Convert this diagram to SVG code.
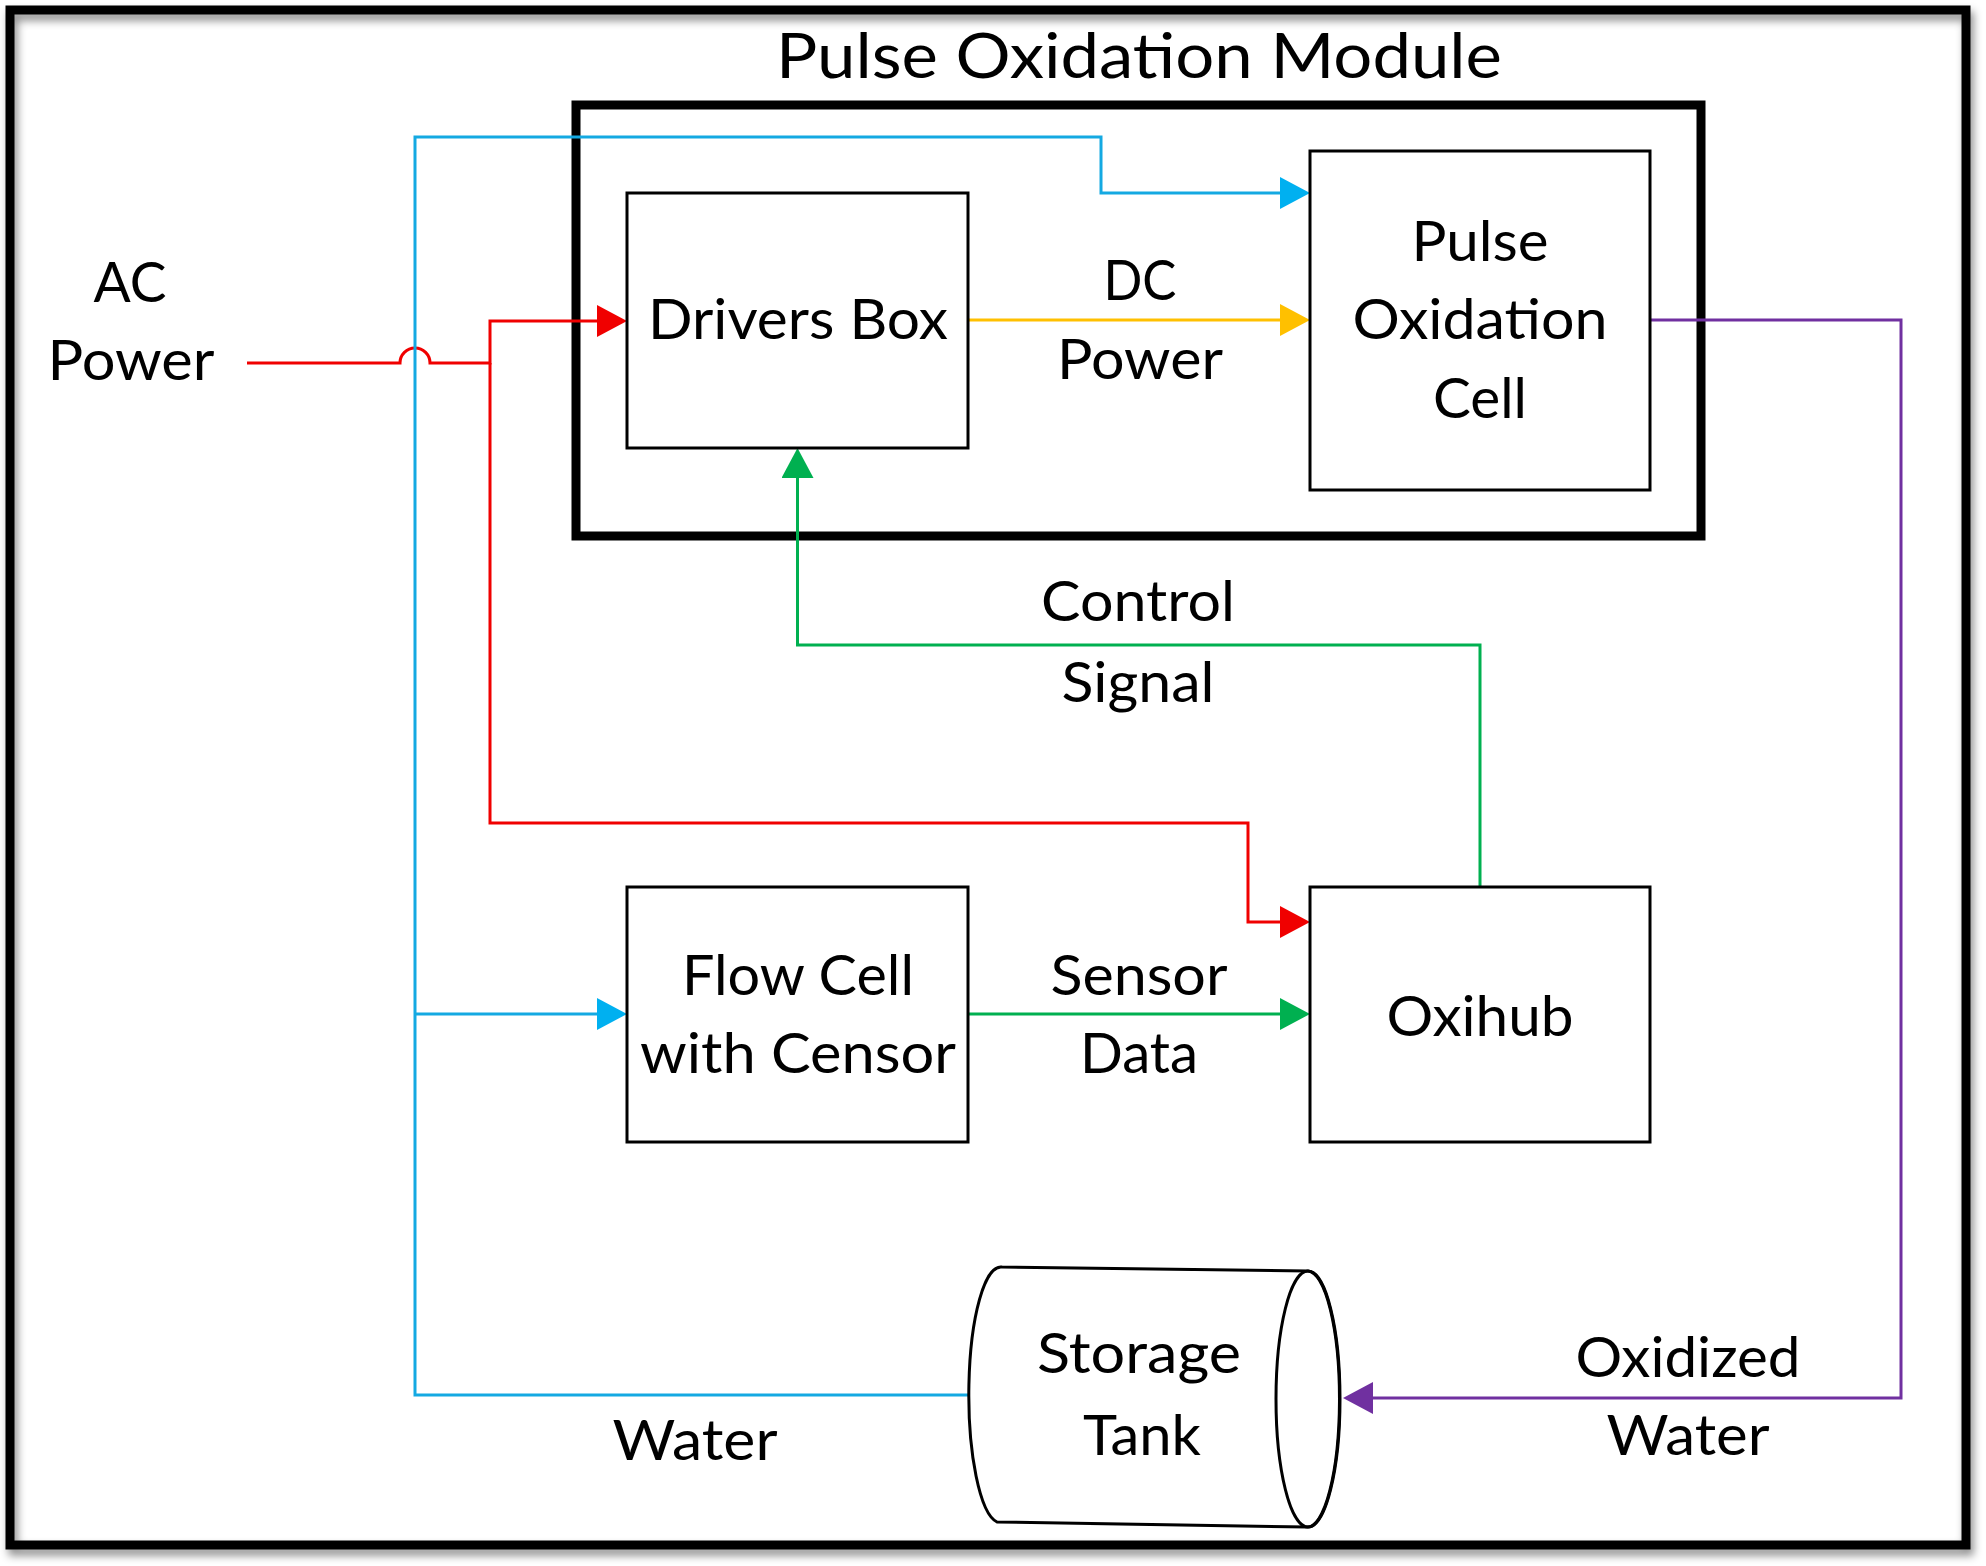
<svg xmlns="http://www.w3.org/2000/svg" width="1986" height="1566" viewBox="0 0 1986 1566">
<defs>
<style>
.t{font-family:Lato,'Open Sans','Liberation Sans',sans-serif;font-size:56px;fill:#000;text-anchor:middle}
.ttl{font-size:62px}
.box{fill:#fff;stroke:#000;stroke-width:3}
.c{fill:none;stroke-width:3;stroke-linejoin:miter}
.red{stroke:#F00000}
.blue{stroke:#14A9E2}
.yel{stroke:#FFC000}
.grn{stroke:#00B050}
.pur{stroke:#7030A0}
</style>
<filter id="sh" x="-5%" y="-5%" width="110%" height="110%">
<feDropShadow dx="3" dy="6" stdDeviation="4" flood-color="#000" flood-opacity="0.45"/>
</filter>
<marker id="aR" markerUnits="userSpaceOnUse" markerWidth="30" markerHeight="32" refX="25" refY="16" orient="auto"><path d="M0,0 L30,16 L0,32 Z" fill="#F00000"/></marker>
<marker id="aB" markerUnits="userSpaceOnUse" markerWidth="30" markerHeight="32" refX="25" refY="16" orient="auto"><path d="M0,0 L30,16 L0,32 Z" fill="#00B0F0"/></marker>
<marker id="aY" markerUnits="userSpaceOnUse" markerWidth="30" markerHeight="32" refX="25" refY="16" orient="auto"><path d="M0,0 L30,16 L0,32 Z" fill="#FFC000"/></marker>
<marker id="aG" markerUnits="userSpaceOnUse" markerWidth="30" markerHeight="32" refX="25" refY="16" orient="auto"><path d="M0,0 L30,16 L0,32 Z" fill="#00B050"/></marker>
<marker id="aP" markerUnits="userSpaceOnUse" markerWidth="30" markerHeight="32" refX="25" refY="16" orient="auto"><path d="M0,0 L30,16 L0,32 Z" fill="#7030A0"/></marker>
</defs>
<rect x="0" y="0" width="1986" height="1566" fill="#fff"/>
<rect id="frame" x="10" y="10" width="1956" height="1535" fill="none" stroke="#000" stroke-width="9" filter="url(#sh)"/>

<g id="module">
<rect x="576" y="105" width="1125" height="431" fill="none" stroke="#000" stroke-width="9"/>
<text class="t ttl" x="1139" y="78" textLength="726" lengthAdjust="spacingAndGlyphs">Pulse Oxidation Module</text>
</g>

<g id="connectors">
<path class="c red" d="M247,363 H400 A15,15 0 0 1 430,363 H490 V321 H622" marker-end="url(#aR)"/>
<path class="c red" d="M490,363 V823 H1248 V922 H1305" marker-end="url(#aR)"/>
<path class="c blue" d="M969,1395 H415 V137 H1101 V193 H1305" marker-end="url(#aB)"/>
<path class="c blue" d="M415,1014 H622" marker-end="url(#aB)"/>
<path class="c yel" d="M968,320 H1305" marker-end="url(#aY)"/>
<path class="c grn" d="M1480,887 V645 H797.5 V453" marker-end="url(#aG)"/>
<path class="c grn" d="M968,1014 H1305" marker-end="url(#aG)"/>
<path class="c pur" d="M1650,320 H1901 V1398 H1348" marker-end="url(#aP)"/>
<g id="labels">
<text class="t" x="130" y="302" textLength="73" lengthAdjust="spacingAndGlyphs">AC</text>
<text class="t" x="131" y="380" textLength="167" lengthAdjust="spacingAndGlyphs">Power</text>
<text class="t" x="1140" y="300" textLength="73" lengthAdjust="spacingAndGlyphs">DC</text>
<text class="t" x="1140" y="379" textLength="166" lengthAdjust="spacingAndGlyphs">Power</text>
<text class="t" x="1138" y="621" textLength="194" lengthAdjust="spacingAndGlyphs">Control</text>
<text class="t" x="1138" y="702" textLength="153" lengthAdjust="spacingAndGlyphs">Signal</text>
<text class="t" x="1139" y="995" textLength="177" lengthAdjust="spacingAndGlyphs">Sensor</text>
<text class="t" x="1139" y="1073" textLength="118" lengthAdjust="spacingAndGlyphs">Data</text>
<text class="t" x="1688" y="1377" textLength="225" lengthAdjust="spacingAndGlyphs">Oxidized</text>
<text class="t" x="1688" y="1455" textLength="163" lengthAdjust="spacingAndGlyphs">Water</text>
<text class="t" x="695" y="1460" textLength="165" lengthAdjust="spacingAndGlyphs">Water</text>
</g>
</g>

<g id="drivers-box">
<rect class="box" x="627" y="193" width="341" height="255"/>
<text class="t" x="798" y="339" textLength="300" lengthAdjust="spacingAndGlyphs">Drivers Box</text>
</g>

<g id="pulse-oxidation-cell">
<rect class="box" x="1310" y="151" width="340" height="339"/>
<text class="t" x="1480" y="261" textLength="137" lengthAdjust="spacingAndGlyphs">Pulse</text>
<text class="t" x="1480" y="339" textLength="255" lengthAdjust="spacingAndGlyphs">Oxidation</text>
<text class="t" x="1480" y="418" textLength="94" lengthAdjust="spacingAndGlyphs">Cell</text>
</g>

<g id="flow-cell">
<rect class="box" x="627" y="887" width="341" height="255"/>
<text class="t" x="798" y="995" textLength="232" lengthAdjust="spacingAndGlyphs">Flow Cell</text>
<text class="t" x="798" y="1073" textLength="316" lengthAdjust="spacingAndGlyphs">with Censor</text>
</g>

<g id="oxihub">
<rect class="box" x="1310" y="887" width="340" height="255"/>
<text class="t" x="1480" y="1036" textLength="187" lengthAdjust="spacingAndGlyphs">Oxihub</text>
</g>

<g id="storage-tank">
<path d="M1002,1267 L1308,1271 A32,128 0 0 1 1307,1527 L997,1522 A32,128 0 0 1 1002,1267 Z" fill="#fff" stroke="#000" stroke-width="3"/>
<ellipse cx="1308" cy="1399" rx="32" ry="128" fill="none" stroke="#000" stroke-width="3"/>
<text class="t" x="1139" y="1373" textLength="204" lengthAdjust="spacingAndGlyphs">Storage</text>
<text class="t" x="1142" y="1455" textLength="118" lengthAdjust="spacingAndGlyphs">Tank</text>
</g>
</svg>
